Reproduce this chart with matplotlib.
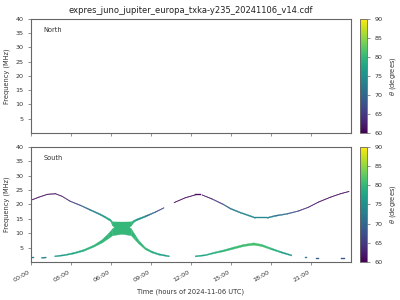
import numpy as np
import matplotlib
matplotlib.use("Agg")
import matplotlib.pyplot as plt
from matplotlib import cm, colors

nan = np.nan

title = "expres_juno_jupiter_europa_txka-y235_20241106_v14.cdf"
hemispheres = ["North", "South"]
xtick_hours = [0, 3, 6, 9, 12, 15, 18, 21]
xtick_labels = ["00:00", "03:00", "06:00", "09:00", "12:00", "15:00", "18:00", "21:00"]
ytick_values = [5, 10, 15, 20, 25, 30, 35, 40]
cbar_ticks = [60, 65, 70, 75, 80, 85, 90]

# South hemisphere, upper branch (time in hours, frequency MHz, theta deg, half band MHz)
upper_t = [0.05, 0.55, 1.2, 1.8, 2.3, 2.9, 3.7, 4.4, 5.2, 5.55, 5.95, 6.1, 6.8, 7.5, 7.7, 7.9, 8.55, 9.3, 9.95,
           10.3, 10.7, 11.55, 12.3, 12.8, 13.55, 14.4, 14.95, 15.7, 16.45, 16.8, 17.7, 18.3, 19.2,
           20.05, 20.8, 21.55, 22.45, 23.2, 23.85]
upper_f = [21.8, 22.7, 23.7, 23.9, 23.0, 21.3, 19.8, 18.3, 16.6, 15.7, 14.6, 13.4, 12.0, 13.4, 14.3, 14.8, 16.0, 17.5, 19.0,
           nan, 20.8, 22.5, 23.5, 23.5, 22.1, 20.2, 18.7, 17.3, 16.1, 15.5, 15.5, 16.2, 16.9,
           17.9, 19.2, 21.0, 22.7, 23.9, 24.7]
upper_theta = [61, 61, 61, 61, 62, 64, 68, 72, 75, 77, 79, 80, 80, 80, 79, 77, 73, 68, 65,
               nan, 61, 61, 61, 61, 63, 67, 72, 73, 74, 74, 74, 72, 70,
               66, 62, 61, 61, 61, 61]
upper_hw = [0.1, 0.1, 0.1, 0.1, 0.1, 0.12, 0.15, 0.2, 0.25, 0.3, 0.35, 0.7, 2.05, 0.7, 0.35, 0.3, 0.25, 0.15, 0.12,
            nan, 0.1, 0.1, 0.1, 0.1, 0.12, 0.15, 0.2, 0.2, 0.2, 0.2, 0.2, 0.2, 0.15,
            0.12, 0.1, 0.1, 0.1, 0.1, 0.1]

# South hemisphere, lower branch
lower_t = [0.05, 0.2, 0.5, 0.75, 1.1, 1.4, 1.75, 2.45, 3.2, 3.95, 4.7, 5.3, 5.8, 6.1, 6.8, 7.5, 7.8, 8.05,
           8.55, 9.05, 9.55, 10.35, 11.3, 12.3, 13.05, 13.8, 14.4, 15.2, 15.95, 16.7, 17.3, 17.95, 18.7,
           19.55, 20.0, 20.55, 20.7, 21.0, 21.4, 21.65, 22.5, 23.3, 23.55]
lower_f = [1.6, 1.6, nan, 1.6, 1.7, nan, 2.1, 2.5, 3.2, 4.2, 5.7, 7.3, 9.2, 10.5, 11.9, 10.5, 8.6, 7.1,
           4.8, 3.6, 2.8, 2.1, nan, 2.1, 2.5, 3.4, 4.0, 5.0, 5.9, 6.4, 5.9, 4.8, 3.6,
           2.4, nan, 1.6, 1.6, nan, 1.3, 1.3, nan, 1.3, 1.3]
lower_theta = [73, 73, nan, 73, 74, nan, 75, 77, 78, 79, 80, 80, 80, 80, 80, 80, 80, 80,
               80, 79, 78, 76, nan, 77, 78, 79, 80, 80, 81, 81, 81, 80, 78,
               75, nan, 72, 72, nan, 69, 69, nan, 68, 68]
lower_hw = [0.18, 0.18, nan, 0.18, 0.18, nan, 0.18, 0.2, 0.25, 0.3, 0.35, 0.55, 0.9, 1.2, 2.1, 1.2, 0.85, 0.6,
            0.35, 0.3, 0.25, 0.2, nan, 0.2, 0.2, 0.25, 0.3, 0.35, 0.35, 0.4, 0.35, 0.3, 0.25,
            0.2, nan, 0.18, 0.18, nan, 0.18, 0.18, nan, 0.18, 0.18]

cmap = plt.get_cmap("viridis")
norm = colors.Normalize(vmin=60, vmax=90)
txt = "#333333"
spc = "#666666"

fig = plt.figure(figsize=(4, 3), dpi=100)
ax_top = fig.add_axes([0.0775, 0.557, 0.799, 0.38])
ax_bot = fig.add_axes([0.0775, 0.127, 0.799, 0.383])
cax_top = fig.add_axes([0.901, 0.557, 0.0165, 0.38])
cax_bot = fig.add_axes([0.901, 0.127, 0.0165, 0.383])


def draw_branch(ax, t, f, th, hw):
    for i in range(len(t) - 1):
        if np.isnan(f[i]) or np.isnan(f[i + 1]):
            continue
        c = cmap(norm(0.5 * (th[i] + th[i + 1])))
        ax.fill_between([t[i], t[i + 1]],
                        [f[i] - hw[i], f[i + 1] - hw[i + 1]],
                        [f[i] + hw[i], f[i + 1] + hw[i + 1]],
                        facecolor=c, edgecolor=c, linewidth=0.25)


draw_branch(ax_bot, upper_t, upper_f, upper_theta, upper_hw)
draw_branch(ax_bot, lower_t, lower_f, lower_theta, lower_hw)

for ax, name in zip([ax_top, ax_bot], hemispheres):
    ax.set_xlim(0, 24)
    ax.set_ylim(0, 40)
    ax.set_yticks(ytick_values)
    ax.set_xticks(xtick_hours)
    ax.set_ylabel("Frequency (MHz)", fontsize=4.8, color=txt)
    ax.text(0.04, 0.9, name, transform=ax.transAxes, fontsize=4.8, color=txt, va="center")
    ax.tick_params(labelsize=4.6, colors=txt, length=2, width=0.5, color=spc)
    for s in ax.spines.values():
        s.set_color(spc)
        s.set_linewidth(0.8)

ax_top.set_xticklabels([])
ax_bot.set_xticklabels(xtick_labels, rotation=30, ha="right")
ax_bot.set_xlabel("Time (hours of 2024-11-06 UTC)", fontsize=4.8, color=txt)
ax_top.set_title(title, fontsize=6, color="#222222", pad=4)

sm = cm.ScalarMappable(norm=norm, cmap=cmap)
for cax in [cax_top, cax_bot]:
    cb = fig.colorbar(sm, cax=cax)
    cb.set_ticks(cbar_ticks)
    cb.set_label(r"$\theta$ (degrees)", fontsize=4.8, color=txt)
    cax.tick_params(labelsize=4.6, colors=txt, length=2, width=0.5, color=spc)
    cb.outline.set_edgecolor(spc)
    cb.outline.set_linewidth(0.6)

fig.savefig("out.png", dpi=100)
